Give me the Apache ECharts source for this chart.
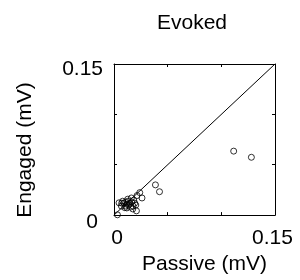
<!DOCTYPE html>
<html>
<head>
<meta charset="utf-8">
<script src="https://cdn.jsdelivr.net/npm/echarts@6/dist/echarts.min.js"></script>
<style>
html, body {margin: 0; padding: 0; background: #fff;}
#chart {width: 300px; height: 280px;}
</style>
</head>
<body>
<div id="chart"></div>
<script>
const passive = [0.1115, 0.128, 0.0386, 0.0424, 0.024, 0.0261, 0.0209, 0.0047, 0.0032, 0.0215,
    0.0162, 0.0131, 0.010, 0.0069, 0.0177, 0.0091, 0.0109, 0.0119, 0.0137, 0.0147,
    0.0165, 0.0081, 0.0128, 0.0184, 0.0193, 0.0109, 0.0156, 0.0072, 0.0203, 0.0175, 0.0119];
const engaged = [0.0635, 0.0574, 0.030, 0.0232, 0.0223, 0.017, 0.0042, 0.0122, 0.0003, 0.0194,
    0.017, 0.0138, 0.0074, 0.009, 0.009, 0.0119, 0.0129, 0.0109, 0.0100, 0.0119,
    0.0129, 0.0138, 0.0158, 0.0148, 0.0119, 0.0090, 0.0080, 0.0119, 0.0100, 0.0061, 0.0071];
const unityLine = [0, 0.15];
const tickLabels = ["0", "0.15"];

const font = "'Liberation Sans', Arial, sans-serif";
const fs = 21;
const chart = echarts.init(document.getElementById("chart"));

function edgeLabel(value) {
    if (Math.abs(value) < 1e-9) return `{lo|${tickLabels[0]}}`;
    if (Math.abs(value - 0.15) < 1e-9) return `{hi|${tickLabels[1]}}`;
    return "";
}

const boxAxis = {
    type: "value",
    min: 0,
    max: 0.15,
    interval: 0.05,
    axisLine: {show: true, onZero: false, lineStyle: {color: "#000", width: 1}},
    axisTick: {show: true, inside: true, length: 3, lineStyle: {color: "#000"}},
    splitLine: {show: false}
};

chart.setOption({
    animation: false,
    title: {
        text: "Evoked",
        left: 187,
        top: 8,
        textAlign: "center",
        textStyle: {fontFamily: font, fontSize: fs, fontWeight: "normal", color: "#000"}
    },
    grid: {left: 114, right: 25, top: 64, bottom: 61},
    xAxis: [
        {
            ...boxAxis,
            position: "bottom",
            name: "Passive (mV)",
            nameLocation: "middle",
            nameGap: 35,
            nameTextStyle: {fontFamily: font, fontSize: fs, color: "#000", padding: [0, 0, 0, 20]},
            axisLabel: {
                margin: 13,
                color: "#000",
                formatter: edgeLabel,
                rich: {
                    lo: {fontFamily: font, fontSize: fs, color: "#000", padding: [0, 0, 0, 6]},
                    hi: {fontFamily: font, fontSize: fs, color: "#000", padding: [0, 5, 0, 0]}
                }
            }
        },
        {...boxAxis, position: "top", axisLabel: {show: false}}
    ],
    yAxis: [
        {
            ...boxAxis,
            position: "left",
            name: "Engaged (mV)",
            nameLocation: "middle",
            nameGap: 78,
            nameTextStyle: {fontFamily: font, fontSize: fs, color: "#000", padding: [0, 21, 0, 0]},
            axisLabel: {
                margin: 11,
                color: "#000",
                formatter: edgeLabel,
                rich: {
                    lo: {fontFamily: font, fontSize: fs, color: "#000", padding: [14, 5, 0, 0]},
                    hi: {fontFamily: font, fontSize: fs, color: "#000", padding: [11, 0, 0, 0]}
                }
            }
        },
        {...boxAxis, position: "right", axisLabel: {show: false}}
    ],
    series: [
        {
            type: "line",
            data: unityLine.map(v => [v, v]),
            showSymbol: false,
            silent: true,
            lineStyle: {color: "#000", width: 1}
        },
        {
            type: "scatter",
            data: passive.map((x, i) => [x, engaged[i]]),
            symbol: "circle",
            symbolSize: 6,
            itemStyle: {color: "rgba(0,0,0,0)", borderColor: "#000", borderWidth: 1}
        }
    ]
});
</script>
</body>
</html>
